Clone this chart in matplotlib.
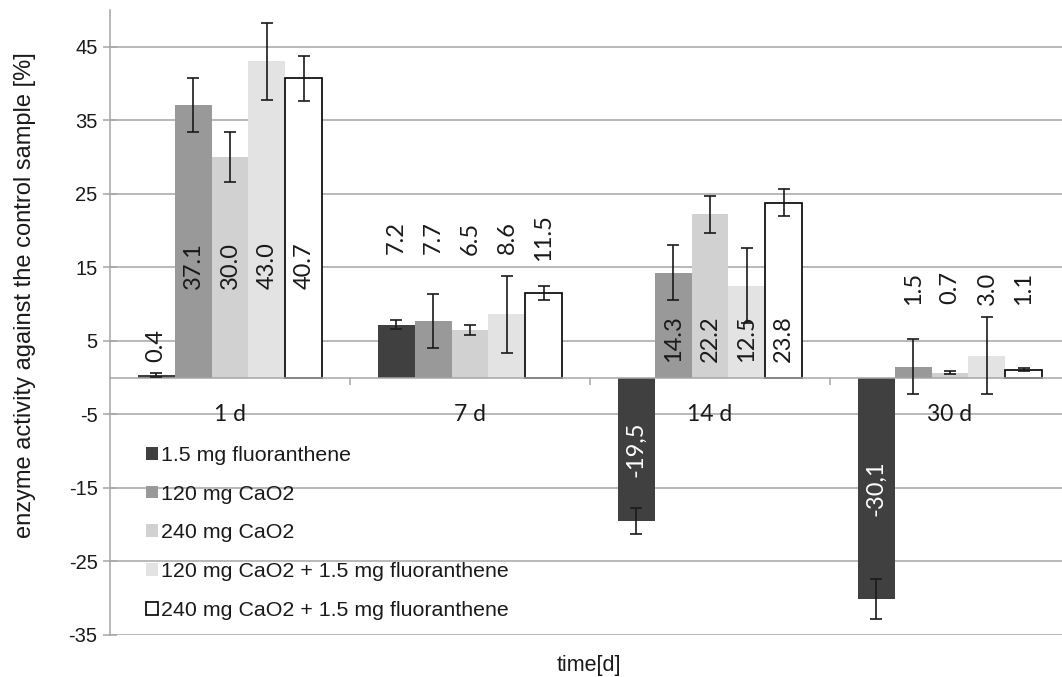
import matplotlib
matplotlib.use("Agg")
import matplotlib.pyplot as plt
from matplotlib.patches import Patch
import numpy as np

# ---- data ----
categories = ["1 d", "7 d", "14 d", "30 d"]
series_names = [
    "1.5 mg fluoranthene",
    "120 mg CaO2",
    "240 mg CaO2",
    "120 mg CaO2 + 1.5 mg fluoranthene",
    "240 mg CaO2 + 1.5 mg fluoranthene",
]
fluoranthene = [0.4, 7.2, -19.5, -30.1]
cao2_120 = [37.1, 7.7, 14.3, 1.5]
cao2_240 = [30.0, 6.5, 22.2, 0.7]
cao2_120_fl = [43.0, 8.6, 12.5, 3.0]
cao2_240_fl = [40.7, 11.5, 23.8, 1.1]

err_fluoranthene = [0.3, 0.65, 1.75, 2.7]
err_cao2_120 = [3.65, 3.7, 3.7, 3.7]
err_cao2_240 = [3.35, 0.7, 2.5, 0.2]
err_cao2_120_fl = [5.2, 5.2, 5.1, 5.2]
err_cao2_240_fl = [3.1, 0.9, 1.8, 0.15]

yticks = [-35, -25, -15, -5, 5, 15, 25, 35, 45]

# ---- styling / layout ----
values = [fluoranthene, cao2_120, cao2_240, cao2_120_fl, cao2_240_fl]
errors = [err_fluoranthene, err_cao2_120, err_cao2_240, err_cao2_120_fl, err_cao2_240_fl]
colors = ["#404040", "#999999", "#d0d1d0", "#e3e3e3", "#ffffff"]
edges = [None, None, None, None, "#000000"]
# vertical centre of positive data labels, per category (layout only)
label_y_group = [15.2, 19.0, 5.3, 12.2]
label_y_small = 4.4  # for the tiny bar in the first group

W, H = 1062, 677
fig = plt.figure(figsize=(W / 100, H / 100), dpi=100)
ax = fig.add_axes([110 / W, 42 / H, (W - 110) / W, 625 / H])

grey = "#a6a6a6"
n = len(values)
bw = 1 / 6.5
x0 = np.arange(len(categories))

for i in range(n):
    xs = x0 + (0.75 + i + 0.5) / 6.5
    ec = edges[i] if edges[i] else colors[i]
    lw = 1.2 if edges[i] else 0
    ax.bar(xs, values[i], width=bw, color=colors[i], edgecolor=ec,
           linewidth=lw, zorder=2)
    ax.errorbar(xs, values[i], yerr=errors[i], fmt="none", ecolor="#1a1a1a",
                elinewidth=1.2, capsize=4.5, capthick=1.2, zorder=3)
    for k, (x, v) in enumerate(zip(xs, values[i])):
        if v < 0:
            txt = f"{v:.1f}".replace(".", ",")
            ax.text(x, v / 2, txt, rotation=90, ha="center", va="center",
                    family="Lato", fontsize=17, color="white", zorder=5)
        else:
            yy = label_y_small if (k == 0 and v < 5) else label_y_group[k]
            ax.text(x, yy, f"{v:.1f}", rotation=90, ha="center", va="center",
                    family="Lato", fontsize=17, color="#1a1a1a", zorder=5)

for k, c in enumerate(categories):
    ax.text(k + 0.5, -5, c, ha="center", va="center", family="Lato",
            fontsize=16.5, color="#1a1a1a", zorder=5)

ax.set_xlim(0, (W - 110) / 240)
ax.set_ylim(-35, 50)

ax.set_yticks(yticks)
ax.set_yticklabels([str(t) for t in yticks], family="Liberation Sans",
                   fontsize=14.5, color="#1a1a1a")
ax.tick_params(axis="y", direction="inout", length=10, width=1.1, color=grey, pad=4)
ax.yaxis.grid(True, color=grey, linewidth=1.1)
ax.set_axisbelow(True)

ax.spines["bottom"].set_position(("data", 0))
ax.spines["bottom"].set_color(grey)
ax.spines["bottom"].set_linewidth(1.1)
ax.spines["left"].set_color(grey)
ax.spines["left"].set_linewidth(1.1)
ax.spines["top"].set_visible(False)
ax.spines["right"].set_visible(False)
ax.set_xticks([1, 2, 3])
ax.set_xticklabels([])
ax.tick_params(axis="x", direction="out", length=5, width=1.1, color=grey)

fig.text(25 / W, 1 - 295 / H, "enzyme activity against the control sample [%]",
         rotation=90, ha="center", va="center", family="Liberation Sans",
         fontsize=17, color="#1a1a1a")
fig.text(589 / W, 1 - 665 / H, "time[d]", ha="center", va="center",
         family="Liberation Sans", fontsize=15.5, color="#1a1a1a")

handles = [Patch(facecolor=colors[i],
                 edgecolor=(edges[i] if edges[i] else colors[i]),
                 linewidth=(1.2 if edges[i] else 0)) for i in range(n)]
leg = ax.legend(handles, series_names, loc="center left",
                bbox_to_anchor=(146 / W, 1 - 533 / H), bbox_transform=fig.transFigure,
                frameon=False, prop={"family": "Liberation Sans", "size": 15.4},
                handlelength=0.55, handleheight=0.55, handletextpad=0.15,
                labelspacing=0.93, borderpad=0, borderaxespad=0)
for t in leg.get_texts():
    t.set_color("#1a1a1a")

fig.savefig("out.png", dpi=100)
